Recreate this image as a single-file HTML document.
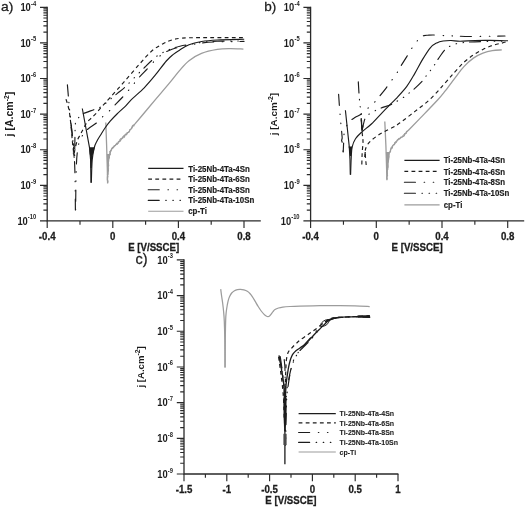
<!DOCTYPE html>
<html lang="en">
<head>
<meta charset="utf-8">
<title>Potentiodynamic polarization curves</title>
<style>
html,body{margin:0;padding:0;background:#fff;}
body{width:525px;height:507px;overflow:hidden;font-family:"Liberation Sans",Arial,Helvetica,sans-serif;}
svg{display:block;}
</style>
</head>
<body>
<svg width="525" height="507" viewBox="0 0 525 507" font-family='"Liberation Sans", Arial, Helvetica, sans-serif' fill="#1c1c1c">
<rect width="525" height="507" fill="#fff"/>
<text transform="translate(1 11.4) scale(1.03 1)" font-size="13.5" font-weight="normal" text-anchor="start" stroke="#1c1c1c" stroke-width="0.28">a)</text>
<path d="M47.2 6.7 V220.9 H260.8" fill="none" stroke="#2a2a2a" stroke-width="1.3"/>
<path d="M40 7.3H47.2M43.4 32.18H47.2M43.4 25.91H47.2M43.4 21.47H47.2M43.4 18.02H47.2M43.4 15.2H47.2M43.4 12.81H47.2M43.4 10.75H47.2M43.4 8.93H47.2M40 42.9H47.2M43.4 67.78H47.2M43.4 61.51H47.2M43.4 57.07H47.2M43.4 53.62H47.2M43.4 50.8H47.2M43.4 48.41H47.2M43.4 46.35H47.2M43.4 44.53H47.2M40 78.5H47.2M43.4 103.38H47.2M43.4 97.11H47.2M43.4 92.67H47.2M43.4 89.22H47.2M43.4 86.4H47.2M43.4 84.01H47.2M43.4 81.95H47.2M43.4 80.13H47.2M40 114.1H47.2M43.4 138.98H47.2M43.4 132.71H47.2M43.4 128.27H47.2M43.4 124.82H47.2M43.4 122H47.2M43.4 119.61H47.2M43.4 117.55H47.2M43.4 115.73H47.2M40 149.7H47.2M43.4 174.58H47.2M43.4 168.31H47.2M43.4 163.87H47.2M43.4 160.42H47.2M43.4 157.6H47.2M43.4 155.21H47.2M43.4 153.15H47.2M43.4 151.33H47.2M40 185.3H47.2M43.4 210.18H47.2M43.4 203.91H47.2M43.4 199.47H47.2M43.4 196.02H47.2M43.4 193.2H47.2M43.4 190.81H47.2M43.4 188.75H47.2M43.4 186.93H47.2M40 220.9H47.2" fill="none" stroke="#2a2a2a" stroke-width="1.15"/>
<text transform="translate(36.2 5.8) scale(0.88 1)" font-size="6.6" font-weight="bold" text-anchor="end">-4</text>
<text transform="translate(30.8 10.9) scale(0.9 1)" font-size="10.4" font-weight="bold" text-anchor="end">10</text>
<text transform="translate(36.2 41.4) scale(0.88 1)" font-size="6.6" font-weight="bold" text-anchor="end">-5</text>
<text transform="translate(30.8 46.5) scale(0.9 1)" font-size="10.4" font-weight="bold" text-anchor="end">10</text>
<text transform="translate(36.2 77) scale(0.88 1)" font-size="6.6" font-weight="bold" text-anchor="end">-6</text>
<text transform="translate(30.8 82.1) scale(0.9 1)" font-size="10.4" font-weight="bold" text-anchor="end">10</text>
<text transform="translate(36.2 112.6) scale(0.88 1)" font-size="6.6" font-weight="bold" text-anchor="end">-7</text>
<text transform="translate(30.8 117.7) scale(0.9 1)" font-size="10.4" font-weight="bold" text-anchor="end">10</text>
<text transform="translate(36.2 148.2) scale(0.88 1)" font-size="6.6" font-weight="bold" text-anchor="end">-8</text>
<text transform="translate(30.8 153.3) scale(0.9 1)" font-size="10.4" font-weight="bold" text-anchor="end">10</text>
<text transform="translate(36.2 183.8) scale(0.88 1)" font-size="6.6" font-weight="bold" text-anchor="end">-9</text>
<text transform="translate(30.8 188.9) scale(0.9 1)" font-size="10.4" font-weight="bold" text-anchor="end">10</text>
<text transform="translate(36.2 219.4) scale(0.88 1)" font-size="6.6" font-weight="bold" text-anchor="end">-10</text>
<text transform="translate(27.8 224.5) scale(0.9 1)" font-size="10.4" font-weight="bold" text-anchor="end">10</text>
<path d="M47.2 220.9V228.1M112.8 220.9V228.1M178.4 220.9V228.1M244 220.9V228.1M80 220.9V224.7M145.6 220.9V224.7M211.2 220.9V224.7" fill="none" stroke="#2a2a2a" stroke-width="1.15"/>
<text transform="translate(47.2 240) scale(0.95 1)" font-size="10.2" font-weight="bold" text-anchor="middle" stroke="#1c1c1c" stroke-width="0.28">-0.4</text>
<text transform="translate(112.8 240) scale(0.95 1)" font-size="10.2" font-weight="bold" text-anchor="middle" stroke="#1c1c1c" stroke-width="0.28">0</text>
<text transform="translate(178.4 240) scale(0.95 1)" font-size="10.2" font-weight="bold" text-anchor="middle" stroke="#1c1c1c" stroke-width="0.28">0.4</text>
<text transform="translate(244 240) scale(0.95 1)" font-size="10.2" font-weight="bold" text-anchor="middle" stroke="#1c1c1c" stroke-width="0.28">0.8</text>
<text transform="translate(153.7 250.5) scale(0.95 1)" font-size="10.2" font-weight="bold" text-anchor="middle" stroke="#1c1c1c" stroke-width="0.28">E [V/SSCE]</text>
<text transform="translate(12.8 114.1) rotate(-90)" font-size="10.5" font-weight="bold" text-anchor="middle">j [A.cm<tspan font-size="6.8" dy="-3.8">-2</tspan><tspan dy="3.8">]</tspan></text>
<path d="M105.8 122.6 L106.6 145 L107.3 168 L107.6 183.6" fill="none" stroke="#9c9c9c" stroke-width="1.3" stroke-linejoin="round"/>
<path d="M107.54 182.97 L107.86 181.59 L107.79 180.89 L107.38 179.9 L107.39 178.54 L107.45 176.68 L107.8 176.77 L107.55 174.45 L108.03 174.51 L108.01 172.29 L108.4 170.42 L108.32 169.62 L107.75 168.06 L107.98 168.07 L107.94 166.4 L108.43 164.77 L108.42 162.96 L108.05 161.97 L108.69 161.12 L108.43 160.15 L108.82 158.31 L109.4 157.69 L109.17 156.13 L109.69 155.34 L110.14 152.95 L110.63 151.31 L110.83 151.26 L111.29 149.58 L111.89 148.7 L113.24 147.33 L114.34 145.96 L115.18 145.57 L116.07 144.42 L117.31 144.2 L117.98 142.6 L118.6 141.56 L120.13 141.12 L121.29 138.88 L121.9 138.6 L122.57 137.36 L123.7 135.88 L124.6 136.18 L125.5 134.26 L126.57 134.4 L127.12 132.66 L128.38 132.46 L129.45 131.44 L129.8 129.65 L130.71 129.51 L132.08 127.2 L132.21 126.37 L133.09 125.84 L134.25 124.46 L135 123.9" fill="none" stroke="#9c9c9c" stroke-width="1.3" stroke-linejoin="round"/>
<path d="M107.45 169.82 L107.91 169.24 L108.61 168.6 L108.18 167.53 L108.41 165.38 L108.71 166.07 L108.74 165.2 L108.26 163.41 L108 163.02 L108.01 160.87 L108.23 160.17 L108.42 159.02 L108.23 158.34 L108.52 157.92 L108.61 158.16 L109.44 155.67 L109.22 155.22 L109.52 153.84 L110.23 154.86 L109.98 152.85 L109.74 151.12 L110.49 150.68 L111.5 149.66 L111.08 150.59 L112.1 148.02 L112.58 146.96 L113.03 148.25 L114.15 146.96 L114.24 145.56 L114.88 145.77 L116.04 145.11 L116.56 143.07 L117.84 143.92 L118.64 142.7 L119.35 141.73 L119.45 140.51 L120.34 138.71 L120.73 138.54 L121.74 138.72 L123.25 137.53 L123.98 138.07 L124.75 136.05 L124.69 135.1 L125.29 134.31 L126.39 135.11 L127.25 133.44 L127.67 133.41 L127.67 132.37 L129.2 131.9 L129.65 130.49 L129.65 130.44 L130.44 129.72 L131.77 128.1 L131.77 128.57 L132.75 126.12 L132.71 125.35 L134.2 126.05 L133.99 125.36 L135 123.9" fill="none" stroke="#9c9c9c" stroke-width="1" stroke-linejoin="round"/>
<path d="M135 123.9 C136.67 121.92 141.5 116.17 145 112 C148.5 107.83 151.83 103.83 156 98.9 C160.17 93.97 166.08 87.12 170 82.4 C173.92 77.68 176.33 74.22 179.5 70.6 C182.67 66.98 185.33 63.57 189 60.7 C192.67 57.83 196.78 55.28 201.5 53.4 C206.22 51.52 212.55 50.2 217.3 49.4 C222.05 48.6 225.65 48.65 230 48.6 C234.35 48.55 241.17 49.02 243.4 49.1" fill="none" stroke="#9c9c9c" stroke-width="1.3" stroke-linejoin="round"/>
<path d="M106.8 154 L110.0 154 L108.9 162 L108.2 174 L107.3 174 Z" fill="#9c9c9c"/>
<path d="M66 99.2 C66.35 100.33 67.52 103.7 68.1 106 C68.68 108.3 69.03 109.88 69.5 113 C69.97 116.12 70.43 120.1 70.9 124.7 C71.37 129.3 71.82 136.05 72.3 140.6 C72.78 145.15 73.55 150.1 73.8 152" fill="none" stroke="#1c1c1c" stroke-width="1.15" stroke-dasharray="3.8 3.3" stroke-linejoin="round"/>
<path d="M74.3 153 C74.53 151.83 75.12 148.3 75.7 146 C76.28 143.7 77 141.15 77.8 139.2 C78.6 137.25 79.58 136.03 80.5 134.3 C81.42 132.57 82.25 130.75 83.3 128.8 C84.35 126.85 85.42 124.43 86.8 122.6 C88.18 120.77 90 119.4 91.6 117.8 C93.2 116.2 94.5 115.08 96.4 113 C98.3 110.92 100.68 107.92 103 105.3 C105.32 102.68 106.85 101.13 110.3 97.3 C113.75 93.47 118.85 87.82 123.7 82.3 C128.55 76.78 134.68 69.45 139.4 64.2 C144.12 58.95 148.05 54.22 152 50.8 C155.95 47.38 159.93 45.47 163.1 43.7 C166.27 41.93 168.18 41.1 171 40.2 C173.82 39.3 176 38.72 180 38.3 C184 37.88 184.3 37.82 195 37.7 C205.7 37.58 236 37.62 244.2 37.6" fill="none" stroke="#1c1c1c" stroke-width="1.15" stroke-dasharray="3.8 3.3" stroke-linejoin="round"/>
<path d="M67.4 84.9 C67.57 86.85 68.03 92.42 68.4 96.6 C68.77 100.78 69.17 105.43 69.6 110 C70.03 114.57 70.5 119.33 71 124 C71.5 128.67 72.13 133.67 72.6 138 C73.07 142.33 73.5 146.33 73.8 150 C74.1 153.67 74.3 158.33 74.4 160" fill="none" stroke="#1c1c1c" stroke-width="1.15" stroke-dasharray="11.05 6.5 0.5 6.6 0.5 6.6 0.5 6.05" stroke-linecap="round" stroke-linejoin="round"/>
<path d="M74.6 158 C74.67 154.17 74.82 141 75 135 C75.18 129 74.88 125.1 75.7 122 C76.52 118.9 78.63 117.8 79.9 116.4 C81.17 115 80.9 114.75 83.3 113.6 C85.7 112.45 91.42 110.6 94.3 109.5 C97.18 108.4 98.63 108.08 100.6 107 C102.57 105.92 104.27 104.47 106.1 103 C107.93 101.53 109.72 99.8 111.6 98.2 C113.48 96.6 115.13 95.27 117.4 93.4 C119.67 91.53 122.43 89.57 125.2 87 C127.97 84.43 130.7 81.33 134 78 C137.3 74.67 141.98 69.97 145 67 C148.02 64.03 149.77 62.27 152.1 60.2 C154.43 58.13 156.63 56.13 159 54.6 C161.37 53.07 164.13 52.03 166.3 51 C168.47 49.97 169.72 49.2 172 48.4 C174.28 47.6 177 46.88 180 46.2 C183 45.52 186.42 44.93 190 44.3 C193.58 43.67 197 42.9 201.5 42.4 C206 41.9 209.92 41.55 217 41.3 C224.08 41.05 239.5 40.97 244 40.9" fill="none" stroke="#1c1c1c" stroke-width="1.15" stroke-dasharray="11.05 6.5 0.5 6.6 0.5 6.6 0.5 6.05" stroke-dashoffset="28.96" stroke-linecap="round" stroke-linejoin="round"/>
<path d="M73.52 143.41 L72.81 144.13 L72.62 143.74 L73.81 146.39 L73.33 148.13 L73.31 148.97 L73.92 148.25 L73.28 149.46 L73.34 151.22 L73.44 151.79 L73.35 154.07 L73.71 153.89 L74.08 156.05 L73.95 157.09 L74.13 157.08 L74.2 158" fill="none" stroke="#1c1c1c" stroke-width="0.9" stroke-linejoin="round"/>
<path d="M69.8 112 C70.05 114.33 70.8 121.5 71.3 126 C71.8 130.5 72.35 134.67 72.8 139 C73.25 143.33 73.63 146 74 152 C74.37 158 74.77 165.33 75 175 C75.23 184.67 75.33 204.17 75.4 210" fill="none" stroke="#1c1c1c" stroke-width="1.15" stroke-dasharray="11.05 8.7 0.5 8.6 0.5 7.85" stroke-dashoffset="24.44" stroke-linecap="round" stroke-linejoin="round"/>
<path d="M75.6 210 C75.7 203.33 75.87 180 76.2 170 C76.53 160 76.88 155.17 77.6 150 C78.32 144.83 78.87 142.42 80.5 139 C82.13 135.58 84.75 132.17 87.4 129.5 C90.05 126.83 93.97 125.03 96.4 123 C98.83 120.97 99.93 119.23 102 117.3 C104.07 115.37 106.73 113.35 108.8 111.4 C110.87 109.45 112.08 108 114.4 105.6 C116.72 103.2 120.1 99.83 122.7 97 C125.3 94.17 127.22 91.93 130 88.6 C132.78 85.27 136.52 80.28 139.4 77 C142.28 73.72 144.53 71.82 147.3 68.9 C150.07 65.98 153.22 62.15 156 59.5 C158.78 56.85 161.33 54.72 164 53 C166.67 51.28 169.33 50.2 172 49.2 C174.67 48.2 177 47.7 180 47 C183 46.3 186.42 45.67 190 45 C193.58 44.33 197 43.52 201.5 43 C206 42.48 209.92 42.17 217 41.9 C224.08 41.63 239.5 41.48 244 41.4" fill="none" stroke="#1c1c1c" stroke-width="1.15" stroke-dasharray="11.05 8.7 0.5 8.6 0.5 7.85" stroke-dashoffset="28.31" stroke-linecap="round" stroke-linejoin="round"/>
<path d="M82.3 108.5 L89.6 148.2 L90.6 160 L91 182.8" fill="none" stroke="#1c1c1c" stroke-width="1.15" stroke-linejoin="round"/>
<path d="M91.3 182.8 C91.45 179 91.7 165.88 92.2 160 C92.7 154.12 93.5 150.67 94.3 147.5 C95.1 144.33 95.95 143.08 97 141 C98.05 138.92 99.27 137.17 100.6 135 C101.93 132.83 103.4 130.3 105 128 C106.6 125.7 108.2 123.53 110.2 121.2 C112.2 118.87 114.53 116.43 117 114 C119.47 111.57 122.57 109.03 125 106.6 C127.43 104.17 128.4 102.53 131.6 99.4 C134.8 96.27 140.27 91.83 144.2 87.8 C148.13 83.77 151.52 79.67 155.2 75.2 C158.88 70.73 163.33 64.43 166.3 61 C169.27 57.57 170.8 56.4 173 54.6 C175.2 52.8 176.83 51.85 179.5 50.2 C182.17 48.55 185.33 46.15 189 44.7 C192.67 43.25 196.78 42.28 201.5 41.5 C206.22 40.72 210.18 40.38 217.3 40 C224.42 39.62 239.72 39.33 244.2 39.2" fill="none" stroke="#1c1c1c" stroke-width="1.15" stroke-linejoin="round"/>
<path d="M89.1 147.2 L94.8 147.2 L94.0 150.5 L93.0 154.6 L92.1 156.4 L91.8 168 L90.5 168 L90.3 156.4 L89.7 154 Z" fill="#1c1c1c"/>
<path d="M148.2 168.4H183.5" fill="none" stroke="#1c1c1c" stroke-width="1.15" stroke-linejoin="round"/>
<text transform="translate(188.2 171.56) scale(0.9 1)" font-size="8.8" font-weight="bold" text-anchor="start" stroke="#1c1c1c" stroke-width="0.18">Ti-25Nb-4Ta-4Sn</text>
<path d="M148.2 179.1H183.5" fill="none" stroke="#1c1c1c" stroke-width="1.15" stroke-dasharray="3.8 3.3" stroke-linejoin="round"/>
<text transform="translate(188.2 182.26) scale(0.9 1)" font-size="8.8" font-weight="bold" text-anchor="start" stroke="#1c1c1c" stroke-width="0.18">Ti-25Nb-4Ta-6Sn</text>
<path d="M148.2 189.7H183.5" fill="none" stroke="#1c1c1c" stroke-width="1.15" stroke-dasharray="11.05 8.7 0.5 8.6 0.5 7.85" stroke-linecap="round" stroke-linejoin="round"/>
<text transform="translate(188.2 192.86) scale(0.9 1)" font-size="8.8" font-weight="bold" text-anchor="start" stroke="#1c1c1c" stroke-width="0.18">Ti-25Nb-4Ta-8Sn</text>
<path d="M148.2 200.3H183.5" fill="none" stroke="#1c1c1c" stroke-width="1.15" stroke-dasharray="11.05 6.5 0.5 6.6 0.5 6.6 0.5 6.05" stroke-linecap="round" stroke-linejoin="round"/>
<text transform="translate(188.2 203.46) scale(0.9 1)" font-size="8.8" font-weight="bold" text-anchor="start" stroke="#1c1c1c" stroke-width="0.18">Ti-25Nb-4Ta-10Sn</text>
<path d="M148.2 211.2H183.5" fill="none" stroke="#9c9c9c" stroke-width="1.15" stroke-linejoin="round"/>
<text transform="translate(188.2 214.36) scale(0.9 1)" font-size="8.8" font-weight="bold" text-anchor="start" stroke="#1c1c1c" stroke-width="0.18">cp-Ti</text>
<text transform="translate(264.3 11.4) scale(1 1)" font-size="13.5" font-weight="normal" text-anchor="start" stroke="#1c1c1c" stroke-width="0.28">b)</text>
<path d="M310.6 6.7 V220.9 H524.2" fill="none" stroke="#2a2a2a" stroke-width="1.3"/>
<path d="M303.4 7.3H310.6M306.8 32.18H310.6M306.8 25.91H310.6M306.8 21.47H310.6M306.8 18.02H310.6M306.8 15.2H310.6M306.8 12.81H310.6M306.8 10.75H310.6M306.8 8.93H310.6M303.4 42.9H310.6M306.8 67.78H310.6M306.8 61.51H310.6M306.8 57.07H310.6M306.8 53.62H310.6M306.8 50.8H310.6M306.8 48.41H310.6M306.8 46.35H310.6M306.8 44.53H310.6M303.4 78.5H310.6M306.8 103.38H310.6M306.8 97.11H310.6M306.8 92.67H310.6M306.8 89.22H310.6M306.8 86.4H310.6M306.8 84.01H310.6M306.8 81.95H310.6M306.8 80.13H310.6M303.4 114.1H310.6M306.8 138.98H310.6M306.8 132.71H310.6M306.8 128.27H310.6M306.8 124.82H310.6M306.8 122H310.6M306.8 119.61H310.6M306.8 117.55H310.6M306.8 115.73H310.6M303.4 149.7H310.6M306.8 174.58H310.6M306.8 168.31H310.6M306.8 163.87H310.6M306.8 160.42H310.6M306.8 157.6H310.6M306.8 155.21H310.6M306.8 153.15H310.6M306.8 151.33H310.6M303.4 185.3H310.6M306.8 210.18H310.6M306.8 203.91H310.6M306.8 199.47H310.6M306.8 196.02H310.6M306.8 193.2H310.6M306.8 190.81H310.6M306.8 188.75H310.6M306.8 186.93H310.6M303.4 220.9H310.6" fill="none" stroke="#2a2a2a" stroke-width="1.15"/>
<text transform="translate(299.6 5.8) scale(0.88 1)" font-size="6.6" font-weight="bold" text-anchor="end">-4</text>
<text transform="translate(294.2 10.9) scale(0.9 1)" font-size="10.4" font-weight="bold" text-anchor="end">10</text>
<text transform="translate(299.6 41.4) scale(0.88 1)" font-size="6.6" font-weight="bold" text-anchor="end">-5</text>
<text transform="translate(294.2 46.5) scale(0.9 1)" font-size="10.4" font-weight="bold" text-anchor="end">10</text>
<text transform="translate(299.6 77) scale(0.88 1)" font-size="6.6" font-weight="bold" text-anchor="end">-6</text>
<text transform="translate(294.2 82.1) scale(0.9 1)" font-size="10.4" font-weight="bold" text-anchor="end">10</text>
<text transform="translate(299.6 112.6) scale(0.88 1)" font-size="6.6" font-weight="bold" text-anchor="end">-7</text>
<text transform="translate(294.2 117.7) scale(0.9 1)" font-size="10.4" font-weight="bold" text-anchor="end">10</text>
<text transform="translate(299.6 148.2) scale(0.88 1)" font-size="6.6" font-weight="bold" text-anchor="end">-8</text>
<text transform="translate(294.2 153.3) scale(0.9 1)" font-size="10.4" font-weight="bold" text-anchor="end">10</text>
<text transform="translate(299.6 183.8) scale(0.88 1)" font-size="6.6" font-weight="bold" text-anchor="end">-9</text>
<text transform="translate(294.2 188.9) scale(0.9 1)" font-size="10.4" font-weight="bold" text-anchor="end">10</text>
<text transform="translate(299.6 219.4) scale(0.88 1)" font-size="6.6" font-weight="bold" text-anchor="end">-10</text>
<text transform="translate(291.2 224.5) scale(0.9 1)" font-size="10.4" font-weight="bold" text-anchor="end">10</text>
<path d="M310.6 220.9V228.1M376.3 220.9V228.1M442 220.9V228.1M507.7 220.9V228.1M343.45 220.9V224.7M409.15 220.9V224.7M474.85 220.9V224.7" fill="none" stroke="#2a2a2a" stroke-width="1.15"/>
<text transform="translate(310.6 240) scale(0.95 1)" font-size="10.2" font-weight="bold" text-anchor="middle" stroke="#1c1c1c" stroke-width="0.28">-0.4</text>
<text transform="translate(376.3 240) scale(0.95 1)" font-size="10.2" font-weight="bold" text-anchor="middle" stroke="#1c1c1c" stroke-width="0.28">0</text>
<text transform="translate(442 240) scale(0.95 1)" font-size="10.2" font-weight="bold" text-anchor="middle" stroke="#1c1c1c" stroke-width="0.28">0.4</text>
<text transform="translate(507.7 240) scale(0.95 1)" font-size="10.2" font-weight="bold" text-anchor="middle" stroke="#1c1c1c" stroke-width="0.28">0.8</text>
<text transform="translate(417.1 250.5) scale(0.95 1)" font-size="10.2" font-weight="bold" text-anchor="middle" stroke="#1c1c1c" stroke-width="0.28">E [V/SSCE]</text>
<text transform="translate(277 114.1) rotate(-90)" font-size="9.9" font-weight="bold" text-anchor="middle">j [A.cm<tspan font-size="6.8" dy="-3.8">-2</tspan><tspan dy="3.8">]</tspan></text>
<path d="M384.8 121.5 L385.9 145.7 L386.5 165 L386.9 180.2" fill="none" stroke="#9c9c9c" stroke-width="1.3" stroke-linejoin="round"/>
<path d="M387.12 179.43 L387.1 178.47 L386.8 178.24 L386.99 176.5 L387.48 175.41 L387.21 174.13 L387.44 173.33 L387.13 171.76 L387.3 170.08 L387.77 169.23 L387.65 168.42 L388.03 166.58 L387.89 165.34 L387.91 164.31 L387.96 162.72 L388.08 162.04 L388.36 160.6 L388.75 158.42 L388.65 158.31 L389.07 155.82 L388.7 155.11 L388.86 153.59 L389.36 152.9 L390.43 151.9 L390.42 150.25 L391.46 148.03 L392.27 148.05 L392.38 146.72 L393.29 144.98 L394.53 144.53 L394.63 142.89 L396.16 141.54 L397.16 140.31 L398.88 138.83 L400.04 138.5 L400.61 137.43 L402.1 136.82 L402.65 136.68 L404.23 135.75 L404.68 133.57 L405.63 133.35 L406.82 131.26 L408 130.8" fill="none" stroke="#9c9c9c" stroke-width="1.3" stroke-linejoin="round"/>
<path d="M387.52 168.82 L387.99 166.52 L387.4 166.84 L387.9 165.4 L387.49 163.12 L388.16 162.85 L387.62 162.88 L388.26 161.6 L387.78 160.71 L387.93 159.73 L388.49 157.68 L388.75 157.85 L388.63 155.26 L389.06 154.48 L388.81 153.32 L389.13 152.38 L389.76 151.56 L390.58 150.5 L390.7 149.26 L391.02 147.96 L391.4 146.98 L392.36 147.08 L392.29 145.95 L393.61 144.46 L394.07 144.36 L394.32 144.42 L394.79 143.01 L395.92 143.16 L396.41 142.06 L397.61 140.87 L398.17 139.63 L398.69 138.53 L399.57 139.08 L400.56 137.21 L401.18 137.84 L402.77 136.78 L402.98 135.2 L403.79 134.92 L404.32 134.19 L405.1 134.52 L406.47 132.99 L406.41 133.13 L407.14 131.21 L408 130.8" fill="none" stroke="#9c9c9c" stroke-width="1" stroke-linejoin="round"/>
<path d="M408 130.8 C410 128.73 415.07 123.53 420 118.4 C424.93 113.27 433.43 104.53 437.6 100 C441.77 95.47 442.18 94.77 445 91.2 C447.82 87.63 451.35 82.7 454.5 78.6 C457.65 74.5 460.75 70.02 463.9 66.6 C467.05 63.18 470.23 60.33 473.4 58.1 C476.57 55.87 479.75 54.45 482.9 53.2 C486.05 51.95 489.15 51.15 492.3 50.6 C495.45 50.05 500.22 50.02 501.8 49.9" fill="none" stroke="#9c9c9c" stroke-width="1.3" stroke-linejoin="round"/>
<path d="M385.9 152 L389.6 152 L388.4 160 L387.6 172 L386.6 172 Z" fill="#9c9c9c"/>
<path d="M361.2 118 C361.37 120.5 361.9 129.07 362.2 133 C362.5 136.93 363 138.33 363 141.6 C363 144.87 362.4 148.7 362.2 152.6 C362 156.5 361.87 162.93 361.8 165" fill="none" stroke="#1c1c1c" stroke-width="1.15" stroke-dasharray="3.8 3.3" stroke-linejoin="round"/>
<path d="M366.2 165 C366.03 162.93 365.2 155.58 365.2 152.6 C365.2 149.62 365.4 148.93 366.2 147.1 C367 145.27 368.2 143.45 370 141.6 C371.8 139.75 374.47 137.73 377 136 C379.53 134.27 382.45 132.68 385.2 131.2 C387.95 129.72 391.03 128.5 393.5 127.1 C395.97 125.7 396.42 125.42 400 122.8 C403.58 120.18 409.92 115.38 415 111.4 C420.08 107.42 425.67 103.43 430.5 98.9 C435.33 94.37 440 88.63 444 84.2 C448 79.77 451.18 75.95 454.5 72.3 C457.82 68.65 460.75 65.18 463.9 62.3 C467.05 59.42 470.23 57.15 473.4 55 C476.57 52.85 479.75 50.98 482.9 49.4 C486.05 47.82 489.15 46.55 492.3 45.5 C495.45 44.45 499.3 43.75 501.8 43.1 C504.3 42.45 506.38 41.85 507.3 41.6" fill="none" stroke="#1c1c1c" stroke-width="1.15" stroke-dasharray="3.8 3.3" stroke-linejoin="round"/>
<path d="M364.6 152 l1.2 0 l-0.2 5 l-1.4 0 Z" fill="#1c1c1c"/>
<path d="M338.6 94.3 L339.4 106 L340.6 121 L341.7 132.3 L342.2 138 L341.6 140.5 L342.8 144 L343.1 151 L342.5 159" fill="none" stroke="#1c1c1c" stroke-width="1.15" stroke-dasharray="11.05 8.7 0.5 8.6 0.5 7.85" stroke-linecap="round" stroke-linejoin="round"/>
<path d="M343.2 152 C343.3 150 343.58 143.4 343.8 140 C344.02 136.6 343.7 134.5 344.5 131.6 C345.3 128.7 346.87 124.95 348.6 122.6 C350.33 120.25 352.82 118.88 354.9 117.5 C356.98 116.12 359.03 115.75 361.1 114.3 C363.17 112.85 365.12 110.75 367.3 108.8 C369.48 106.85 372.08 104.78 374.2 102.6 C376.32 100.42 377.98 98.17 380 95.7 C382.02 93.23 384.4 90.3 386.3 87.8 C388.2 85.3 389.68 83.07 391.4 80.7 C393.12 78.33 395.08 75.95 396.6 73.6 C398.12 71.25 398.8 69.43 400.5 66.6 C402.2 63.77 405.02 59.5 406.8 56.6 C408.58 53.7 409.57 51.67 411.2 49.2 C412.83 46.73 415.13 43.73 416.6 41.8 C418.07 39.87 418.77 38.63 420 37.6 C421.23 36.57 422.67 36 424 35.6 C425.33 35.2 426.4 35.3 428 35.2 C429.6 35.1 431.22 34.95 433.6 35 C435.98 35.05 439.4 35.37 442.3 35.5 C445.2 35.63 446.38 35.63 451 35.8 C455.62 35.97 461 36.47 470 36.5 C479 36.53 499.17 36.08 505 36" fill="none" stroke="#1c1c1c" stroke-width="1.15" stroke-dasharray="11.05 8.7 0.5 8.6 0.5 7.85" stroke-dashoffset="2.26" stroke-linecap="round" stroke-linejoin="round"/>
<path d="M358.3 81.9 L359 93.6 L359.8 104 L361.3 114 L361.6 122 L362 130.2" fill="none" stroke="#1c1c1c" stroke-width="1.15" stroke-dasharray="11.05 6.5 0.5 6.6 0.5 6.6 0.5 6.05" stroke-linecap="round" stroke-linejoin="round"/>
<path d="M362.2 130.2 C362.4 129.17 363.02 125.72 363.4 124 C363.78 122.28 363.9 121.32 364.5 119.9 C365.1 118.48 366.08 116.53 367 115.5 C367.92 114.47 368.68 114.48 370 113.7 C371.32 112.92 373.05 111.73 374.9 110.8 C376.75 109.87 378.47 109.12 381.1 108.1 C383.73 107.08 388.17 105.78 390.7 104.7 C393.23 103.62 394.27 102.75 396.3 101.6 C398.33 100.45 400.88 99.13 402.9 97.8 C404.92 96.47 406.57 95.03 408.4 93.6 C410.23 92.17 411.67 91.2 413.9 89.2 C416.13 87.2 419.82 83.73 421.8 81.6 C423.78 79.47 424.4 78.2 425.8 76.4 C427.2 74.6 428.77 72.7 430.2 70.8 C431.63 68.9 433.03 67.02 434.4 65 C435.77 62.98 436.68 61.2 438.4 58.7 C440.12 56.2 442.73 52.12 444.7 50 C446.67 47.88 448.23 47.05 450.2 46 C452.17 44.95 454.27 44.28 456.5 43.7 C458.73 43.12 461.32 42.78 463.6 42.5 C465.88 42.22 467.25 42.15 470.2 42 C473.15 41.85 475.17 41.77 481.3 41.6 C487.43 41.43 502.72 41.1 507 41" fill="none" stroke="#1c1c1c" stroke-width="1.15" stroke-dasharray="11.05 6.5 0.5 6.6 0.5 6.6 0.5 6.05" stroke-dashoffset="6.66" stroke-linecap="round" stroke-linejoin="round"/>
<path d="M361.1 119.2 L362 130.2 L364.5 119.9" fill="none" stroke="#1c1c1c" stroke-width="1.1" stroke-linejoin="round"/>
<path d="M345.4 110.2 L349.3 147 L350 160 L350.3 174.7" fill="none" stroke="#1c1c1c" stroke-width="1.15" stroke-linejoin="round"/>
<path d="M350.6 174.7 C350.7 171.92 350.95 162.6 351.2 158 C351.45 153.4 351.38 150.3 352.1 147.1 C352.82 143.9 353.88 141.32 355.5 138.8 C357.12 136.28 359.15 134.47 361.8 132 C364.45 129.53 367.95 127.28 371.4 124 C374.85 120.72 379.28 115.63 382.5 112.3 C385.72 108.97 388.48 106.23 390.7 104 C392.92 101.77 393.12 101.85 395.8 98.9 C398.48 95.95 403.65 90.52 406.8 86.3 C409.95 82.08 412.07 78.08 414.7 73.6 C417.33 69.12 419.97 63.73 422.6 59.4 C425.23 55.07 428.13 50.35 430.5 47.6 C432.87 44.85 434.7 44 436.8 42.9 C438.9 41.8 440.73 41.4 443.1 41 C445.47 40.6 448.18 40.47 451 40.5 C453.82 40.53 456 41.2 460 41.2 C464 41.2 470 40.63 475 40.5 C480 40.37 484.5 40.35 490 40.4 C495.5 40.45 505 40.73 508 40.8" fill="none" stroke="#1c1c1c" stroke-width="1.15" stroke-linejoin="round"/>
<path d="M348.5 146.6 L352.4 146.6 L351.8 150 L351.2 156 L350.0 156 L349.3 150 Z" fill="#1c1c1c"/>
<path d="M404.4 160.3H439.6" fill="none" stroke="#1c1c1c" stroke-width="1.15" stroke-linejoin="round"/>
<text transform="translate(443.7 163.44) scale(0.9 1)" font-size="8.75" font-weight="bold" text-anchor="start" stroke="#1c1c1c" stroke-width="0.18">Ti-25Nb-4Ta-4Sn</text>
<path d="M404.4 171.4H439.6" fill="none" stroke="#1c1c1c" stroke-width="1.15" stroke-dasharray="3.8 3.3" stroke-linejoin="round"/>
<text transform="translate(443.7 174.54) scale(0.9 1)" font-size="8.75" font-weight="bold" text-anchor="start" stroke="#1c1c1c" stroke-width="0.18">Ti-25Nb-4Ta-6Sn</text>
<path d="M404.4 182.2H439.6" fill="none" stroke="#1c1c1c" stroke-width="1.15" stroke-dasharray="11.05 8.7 0.5 8.6 0.5 7.85" stroke-linecap="round" stroke-linejoin="round"/>
<text transform="translate(443.7 185.34) scale(0.9 1)" font-size="8.75" font-weight="bold" text-anchor="start" stroke="#1c1c1c" stroke-width="0.18">Ti-25Nb-4Ta-8Sn</text>
<path d="M404.4 193.2H439.6" fill="none" stroke="#1c1c1c" stroke-width="1.15" stroke-dasharray="11.05 6.5 0.5 6.6 0.5 6.6 0.5 6.05" stroke-linecap="round" stroke-linejoin="round"/>
<text transform="translate(443.7 196.34) scale(0.9 1)" font-size="8.75" font-weight="bold" text-anchor="start" stroke="#1c1c1c" stroke-width="0.18">Ti-25Nb-4Ta-10Sn</text>
<path d="M404.4 204.8H439.6" fill="none" stroke="#9c9c9c" stroke-width="1.15" stroke-linejoin="round"/>
<text transform="translate(443.7 207.94) scale(0.9 1)" font-size="8.75" font-weight="bold" text-anchor="start" stroke="#1c1c1c" stroke-width="0.18">cp-Ti</text>
<text transform="translate(135.4 264) scale(1.05 1)" font-size="13.8" font-weight="normal" text-anchor="start" stroke="#1c1c1c" stroke-width="0.28">c)</text>
<path d="M184 259.3 V474 H398.4" fill="none" stroke="#2a2a2a" stroke-width="1.3"/>
<path d="M176.8 259.9H184M180.2 284.84H184M180.2 278.56H184M180.2 274.1H184M180.2 270.64H184M180.2 267.82H184M180.2 265.43H184M180.2 263.36H184M180.2 261.53H184M176.8 295.58H184M180.2 320.52H184M180.2 314.24H184M180.2 309.78H184M180.2 306.33H184M180.2 303.5H184M180.2 301.11H184M180.2 299.04H184M180.2 297.22H184M176.8 331.27H184M180.2 356.21H184M180.2 349.92H184M180.2 345.47H184M180.2 342.01H184M180.2 339.18H184M180.2 336.79H184M180.2 334.72H184M180.2 332.9H184M176.8 366.95H184M180.2 391.89H184M180.2 385.61H184M180.2 381.15H184M180.2 377.69H184M180.2 374.87H184M180.2 372.48H184M180.2 370.41H184M180.2 368.58H184M176.8 402.63H184M180.2 427.57H184M180.2 421.29H184M180.2 416.83H184M180.2 413.38H184M180.2 410.55H184M180.2 408.16H184M180.2 406.09H184M180.2 404.27H184M176.8 438.32H184M180.2 463.26H184M180.2 456.97H184M180.2 452.52H184M180.2 449.06H184M180.2 446.23H184M180.2 443.84H184M180.2 441.77H184M180.2 439.95H184M176.8 474H184" fill="none" stroke="#2a2a2a" stroke-width="1.15"/>
<text transform="translate(173 258.4) scale(0.88 1)" font-size="6.6" font-weight="bold" text-anchor="end">-3</text>
<text transform="translate(167.6 263.5) scale(0.9 1)" font-size="10.4" font-weight="bold" text-anchor="end">10</text>
<text transform="translate(173 294.08) scale(0.88 1)" font-size="6.6" font-weight="bold" text-anchor="end">-4</text>
<text transform="translate(167.6 299.18) scale(0.9 1)" font-size="10.4" font-weight="bold" text-anchor="end">10</text>
<text transform="translate(173 329.77) scale(0.88 1)" font-size="6.6" font-weight="bold" text-anchor="end">-5</text>
<text transform="translate(167.6 334.87) scale(0.9 1)" font-size="10.4" font-weight="bold" text-anchor="end">10</text>
<text transform="translate(173 365.45) scale(0.88 1)" font-size="6.6" font-weight="bold" text-anchor="end">-6</text>
<text transform="translate(167.6 370.55) scale(0.9 1)" font-size="10.4" font-weight="bold" text-anchor="end">10</text>
<text transform="translate(173 401.13) scale(0.88 1)" font-size="6.6" font-weight="bold" text-anchor="end">-7</text>
<text transform="translate(167.6 406.23) scale(0.9 1)" font-size="10.4" font-weight="bold" text-anchor="end">10</text>
<text transform="translate(173 436.82) scale(0.88 1)" font-size="6.6" font-weight="bold" text-anchor="end">-8</text>
<text transform="translate(167.6 441.92) scale(0.9 1)" font-size="10.4" font-weight="bold" text-anchor="end">10</text>
<text transform="translate(173 472.5) scale(0.88 1)" font-size="6.6" font-weight="bold" text-anchor="end">-9</text>
<text transform="translate(167.6 477.6) scale(0.9 1)" font-size="10.4" font-weight="bold" text-anchor="end">10</text>
<path d="M184 474V481.2M226.8 474V481.2M269.6 474V481.2M312.4 474V481.2M355.2 474V481.2M398 474V481.2M205.4 474V477.8M248.2 474V477.8M291 474V477.8M333.8 474V477.8M376.6 474V477.8" fill="none" stroke="#2a2a2a" stroke-width="1.15"/>
<text transform="translate(184 493.1) scale(0.95 1)" font-size="10.2" font-weight="bold" text-anchor="middle" stroke="#1c1c1c" stroke-width="0.28">-1.5</text>
<text transform="translate(226.8 493.1) scale(0.95 1)" font-size="10.2" font-weight="bold" text-anchor="middle" stroke="#1c1c1c" stroke-width="0.28">-1</text>
<text transform="translate(269.6 493.1) scale(0.95 1)" font-size="10.2" font-weight="bold" text-anchor="middle" stroke="#1c1c1c" stroke-width="0.28">-0.5</text>
<text transform="translate(312.4 493.1) scale(0.95 1)" font-size="10.2" font-weight="bold" text-anchor="middle" stroke="#1c1c1c" stroke-width="0.28">0</text>
<text transform="translate(355.2 493.1) scale(0.95 1)" font-size="10.2" font-weight="bold" text-anchor="middle" stroke="#1c1c1c" stroke-width="0.28">0.5</text>
<text transform="translate(398 493.1) scale(0.95 1)" font-size="10.2" font-weight="bold" text-anchor="middle" stroke="#1c1c1c" stroke-width="0.28">1</text>
<text transform="translate(290.9 503.6) scale(0.95 1)" font-size="10.2" font-weight="bold" text-anchor="middle" stroke="#1c1c1c" stroke-width="0.28">E [V/SSCE]</text>
<text transform="translate(144.1 366.95) rotate(-90)" font-size="9.6" font-weight="bold" text-anchor="middle">j [A.cm<tspan font-size="6.8" dy="-3.8">-2</tspan><tspan dy="3.8">]</tspan></text>
<path d="M220.7 289.1 C220.85 290.25 221.27 293.6 221.6 296 C221.93 298.4 222.37 300.92 222.7 303.5 C223.03 306.08 223.33 308.53 223.6 311.5 C223.87 314.47 224.1 316.55 224.3 321.3 C224.5 326.05 224.68 332.28 224.8 340 C224.92 347.72 224.97 363 225 367.6" fill="none" stroke="#9c9c9c" stroke-width="1.25" stroke-linejoin="round"/>
<path d="M225.1 367.6 C225.13 363 225.2 348.05 225.3 340 C225.4 331.95 225.53 324.05 225.7 319.3 C225.87 314.55 226.05 313.8 226.3 311.5 C226.55 309.2 226.88 307.32 227.2 305.5 C227.52 303.68 227.8 302.08 228.2 300.6 C228.6 299.12 229.02 297.87 229.6 296.6 C230.18 295.33 230.88 293.98 231.7 293 C232.52 292.02 233.55 291.27 234.5 290.7 C235.45 290.13 236.42 289.83 237.4 289.6 C238.38 289.37 239.32 289.25 240.4 289.3 C241.48 289.35 242.75 289.57 243.9 289.9 C245.05 290.23 246.3 290.7 247.3 291.3 C248.3 291.9 249.07 292.62 249.9 293.5 C250.73 294.38 251.42 295.28 252.3 296.6 C253.18 297.92 254.22 299.75 255.2 301.4 C256.18 303.05 257.2 304.9 258.2 306.5 C259.2 308.1 260.22 309.68 261.2 311 C262.18 312.32 263.27 313.57 264.1 314.4 C264.93 315.23 265.55 315.63 266.2 316 C266.85 316.37 267.43 316.62 268 316.6 C268.57 316.58 269.1 316.27 269.6 315.9 C270.1 315.53 270.43 315.12 271 314.4 C271.57 313.68 272.33 312.4 273 311.6 C273.67 310.8 274.08 310.2 275 309.6 C275.92 309 277.2 308.42 278.5 308 C279.8 307.58 280.88 307.35 282.8 307.1 C284.72 306.85 287.13 306.67 290 306.5 C292.87 306.33 295 306.23 300 306.1 C305 305.97 313.33 305.78 320 305.7 C326.67 305.62 334.17 305.57 340 305.6 C345.83 305.63 350.05 305.73 355 305.9 C359.95 306.07 367.25 306.48 369.7 306.6" fill="none" stroke="#9c9c9c" stroke-width="1.25" stroke-linejoin="round"/>
<path d="M279 355.3 C279.37 357.42 280.4 363.15 281.2 368 C282 372.85 283.22 379.07 283.8 384.4 C284.38 389.73 284.52 394.07 284.7 400 C284.88 405.93 284.87 409.3 284.9 420 C284.93 430.7 284.9 456.83 284.9 464.2" fill="none" stroke="#1c1c1c" stroke-width="1.3" stroke-linejoin="round"/>
<path d="M285 420 C285.07 416.67 285.22 405.93 285.4 400 C285.58 394.07 285.72 388.97 286.1 384.4 C286.48 379.83 287.25 375.63 287.7 372.6 C288.15 369.57 288.4 368.17 288.8 366.2 C289.2 364.23 289.65 362.37 290.1 360.8 C290.55 359.23 290.98 357.98 291.5 356.8 C292.02 355.62 292.42 354.73 293.2 353.7 C293.98 352.67 295.13 351.52 296.2 350.6 C297.27 349.68 298.12 349.27 299.6 348.2 C301.08 347.13 303.42 345.63 305.1 344.2 C306.78 342.77 307.97 341.42 309.7 339.6 C311.43 337.78 313.72 335.17 315.5 333.3 C317.28 331.43 318.75 330.05 320.4 328.4 C322.05 326.75 324.07 324.63 325.4 323.4 C326.73 322.17 327.42 321.67 328.4 321 C329.38 320.33 330.2 319.87 331.3 319.4 C332.4 318.93 333.68 318.52 335 318.2 C336.32 317.88 337.03 317.72 339.2 317.5 C341.37 317.28 344.72 317.07 348 316.9 C351.28 316.73 355.28 316.62 358.9 316.5 C362.52 316.38 367.9 316.25 369.7 316.2" fill="none" stroke="#1c1c1c" stroke-width="1.3" stroke-linejoin="round"/>
<path d="M278.6 357 C278.9 359.17 279.8 365.5 280.4 370 C281 374.5 281.67 379 282.2 384 C282.73 389 283.27 394 283.6 400 C283.93 406 284.1 416.67 284.2 420" fill="none" stroke="#1c1c1c" stroke-width="1.2" stroke-dasharray="3.8 3.3" stroke-linejoin="round"/>
<path d="M284.8 425 C284.87 419.17 285.02 399.5 285.2 390 C285.38 380.5 285.68 373.13 285.9 368 C286.12 362.87 286.13 361.78 286.5 359.2 C286.87 356.62 287.32 354.27 288.1 352.5 C288.88 350.73 290.18 349.78 291.2 348.6 C292.22 347.42 293.13 346.47 294.2 345.4 C295.27 344.33 296.55 343.13 297.6 342.2 C298.65 341.27 299.17 340.8 300.5 339.8 C301.83 338.8 303.93 337.37 305.6 336.2 C307.27 335.03 308.85 333.95 310.5 332.8 C312.15 331.65 313.58 330.73 315.5 329.3 C317.42 327.87 320.08 325.65 322 324.2 C323.92 322.75 325.5 321.55 327 320.6 C328.5 319.65 329.58 319 331 318.5 C332.42 318 334 317.8 335.5 317.6 C337 317.4 336.75 317.47 340 317.3 C343.25 317.13 350.05 316.87 355 316.6 C359.95 316.33 367.25 315.85 369.7 315.7" fill="none" stroke="#1c1c1c" stroke-width="1.2" stroke-dasharray="3.8 3.3" stroke-linejoin="round"/>
<path d="M280.2 356.5 C280.57 359.08 281.73 366.42 282.4 372 C283.07 377.58 283.8 383.67 284.2 390 C284.6 396.33 284.7 403.17 284.8 410 C284.9 416.83 284.8 427.5 284.8 431" fill="none" stroke="#1c1c1c" stroke-width="1.2" stroke-dasharray="11.05 8.7 0.5 8.6 0.5 7.85" stroke-linecap="round" stroke-linejoin="round"/>
<path d="M285.2 431 C285.4 425 285.82 403.55 286.4 395 C286.98 386.45 287.95 384.02 288.7 379.7 C289.45 375.38 290.12 372.28 290.9 369.1 C291.68 365.92 292.22 363.32 293.4 360.6 C294.58 357.88 295.9 355.73 298 352.8 C300.1 349.87 303.5 345.97 306 343 C308.5 340.03 310.6 337.9 313 335 C315.4 332.1 318.48 327.77 320.4 325.6 C322.32 323.43 323.02 323 324.5 322 C325.98 321 327.72 320.22 329.3 319.6 C330.88 318.98 332.22 318.67 334 318.3 C335.78 317.93 336.5 317.67 340 317.4 C343.5 317.13 350.05 316.8 355 316.7 C359.95 316.6 367.25 316.78 369.7 316.8" fill="none" stroke="#1c1c1c" stroke-width="1.2" stroke-dasharray="11.05 8.7 0.5 8.6 0.5 7.85" stroke-dashoffset="22.89" stroke-linecap="round" stroke-linejoin="round"/>
<path d="M284.2 359.6 C284.33 361.37 284.83 363.47 285 370.2 C285.17 376.93 285.17 387.53 285.2 400 C285.23 412.47 285.2 437.5 285.2 445" fill="none" stroke="#1c1c1c" stroke-width="1.1" stroke-dasharray="11.05 6.5 0.5 6.6 0.5 6.6 0.5 6.05" stroke-linecap="round" stroke-linejoin="round"/>
<path d="M285.6 445 C285.77 437.5 286.13 410.17 286.6 400 C287.07 389.83 287.77 388.67 288.4 384 C289.03 379.33 289.7 375.33 290.4 372 C291.1 368.67 291.73 366.5 292.6 364 C293.47 361.5 294.37 359.25 295.6 357 C296.83 354.75 297.6 353.23 300 350.5 C302.4 347.77 307.33 343.48 310 340.6 C312.67 337.72 314.1 335.5 316 333.2 C317.9 330.9 319.9 328.57 321.4 326.8 C322.9 325.03 323.85 323.73 325 322.6 C326.15 321.47 326.8 320.68 328.3 320 C329.8 319.32 332.05 318.92 334 318.5 C335.95 318.08 336.5 317.78 340 317.5 C343.5 317.22 350.05 316.82 355 316.8 C359.95 316.78 367.25 317.3 369.7 317.4" fill="none" stroke="#1c1c1c" stroke-width="1.2" stroke-dasharray="11.05 6.5 0.5 6.6 0.5 6.6 0.5 6.05" stroke-dashoffset="17.8" stroke-linecap="round" stroke-linejoin="round"/>
<path d="M320 326.2 C320.3 325.6 320.87 323.63 321.8 322.6 C322.73 321.57 324.27 320.5 325.6 320 C326.93 319.5 329.1 319.67 329.8 319.6" fill="none" stroke="#1c1c1c" stroke-width="1" stroke-linejoin="round"/>
<path d="M320 326.2 C320.7 326.17 322.9 326.43 324.2 326 C325.5 325.57 326.87 324.67 327.8 323.6 C328.73 322.53 329.47 320.27 329.8 319.6" fill="none" stroke="#1c1c1c" stroke-width="1" stroke-linejoin="round"/>
<path d="M279.1 356.76 L279.74 358.01 L279.63 359.01 L279.6 359.53 L279.84 360.8 L279.96 361.04 L280.39 362.47 L280.83 364.06 L281.16 365.32 L281.29 366.76 L281.13 366.65 L281.88 367.3 L281.77 369.29 L281.23 370.67 L282.23 371.25 L282.22 372.62 L281.77 373.05 L282.28 374.67 L282.72 375.65 L282.65 376.79 L282.89 377.39 L282.58 377.06 L282.63 378.72 L282.7 380.67 L283.24 381.26 L283.4 382.36 L283.35 382.01 L283.75 384.5 L283.55 385.07 L283.8 385.13 L283.96 386.5 L283.39 387.53 L284.14 388.41 L284.24 390.95 L284.04 390.77 L284.08 392.37 L284.42 393.23 L284.34 393.15 L283.9 394.51 L284.54 395.61 L284.42 396.02 L283.96 397.54 L284.62 399.38 L284.68 399.58 L284.57 400.93 L284.57 401.24 L285.01 402.4 L285.11 404.87 L284.17 404.92 L284.99 406.94 L284.63 406.54 L284.41 408.89 L284.43 409.16 L284.38 410.05 L285.2 410.27 L285.09 412.02 L285.17 413.41 L284.8 414" fill="none" stroke="#1c1c1c" stroke-width="0.9" stroke-linejoin="round"/>
<path d="M283.3 398 L286.6 398 L286.3 418 L285.6 431 L284.2 431 L283.6 418 Z" fill="#1c1c1c"/>
<rect x="283.4" y="433.8" width="3.2" height="11.2" fill="#4a4a4a"/>
<rect x="357.6" y="315.3" width="12.4" height="2.6" fill="#1c1c1c" opacity="0.85"/>
<path d="M298.6 413.6H335.8" fill="none" stroke="#1c1c1c" stroke-width="1.15" stroke-linejoin="round"/>
<text transform="translate(339.5 416.4) scale(0.9 1)" font-size="7.81" font-weight="bold" text-anchor="start" stroke="#1c1c1c" stroke-width="0.08">Ti-25Nb-4Ta-4Sn</text>
<path d="M298.6 422.8H335.8" fill="none" stroke="#1c1c1c" stroke-width="1.15" stroke-dasharray="3.8 3.3" stroke-linejoin="round"/>
<text transform="translate(339.5 425.6) scale(0.9 1)" font-size="7.81" font-weight="bold" text-anchor="start" stroke="#1c1c1c" stroke-width="0.08">Ti-25Nb-4Ta-6Sn</text>
<path d="M298.6 432.5H335.8" fill="none" stroke="#1c1c1c" stroke-width="1.15" stroke-dasharray="11.05 8.7 0.5 8.6 0.5 7.85" stroke-linecap="round" stroke-linejoin="round"/>
<text transform="translate(339.5 435.3) scale(0.9 1)" font-size="7.81" font-weight="bold" text-anchor="start" stroke="#1c1c1c" stroke-width="0.08">Ti-25Nb-4Ta-8Sn</text>
<path d="M298.6 442.4H335.8" fill="none" stroke="#1c1c1c" stroke-width="1.15" stroke-dasharray="11.05 6.5 0.5 6.6 0.5 6.6 0.5 6.05" stroke-linecap="round" stroke-linejoin="round"/>
<text transform="translate(339.5 445.2) scale(0.9 1)" font-size="7.81" font-weight="bold" text-anchor="start" stroke="#1c1c1c" stroke-width="0.08">Ti-25Nb-4Ta-10Sn</text>
<path d="M298.6 452H335.8" fill="none" stroke="#9c9c9c" stroke-width="1.15" stroke-linejoin="round"/>
<text transform="translate(339.5 454.8) scale(0.9 1)" font-size="7.81" font-weight="bold" text-anchor="start" stroke="#1c1c1c" stroke-width="0.08">cp-Ti</text>
</svg>
</body>
</html>
